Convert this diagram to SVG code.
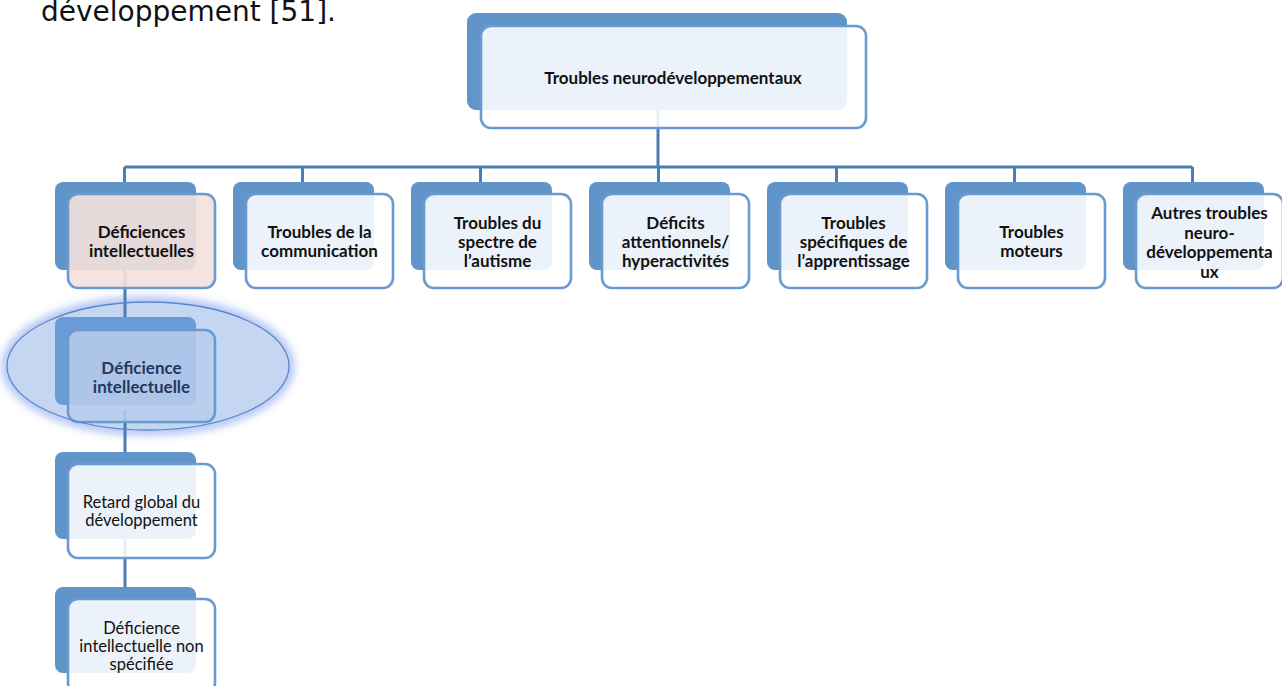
<svg xmlns="http://www.w3.org/2000/svg" width="1282" height="686" viewBox="0 0 1282 686">
<defs>
<style>
.back{fill:#6195c9}
.front{fill:#ffffff;fill-opacity:.88;stroke:#6a9bd0;stroke-width:2.6}
.conn{stroke:#4a7db4;stroke-width:3;fill:none}
.t{font-family:Lato,'Liberation Sans',sans-serif;font-weight:bold;font-size:17px;text-anchor:middle;fill:#111}
.r{font-weight:normal;font-size:16.5px}
</style>
<filter id="glow" x="-20%" y="-40%" width="140%" height="180%">
<feGaussianBlur stdDeviation="5"/>
</filter>
</defs>
<rect width="1282" height="686" fill="#fff"/>
<text x="41" y="21" font-family="'DejaVu Sans',sans-serif" font-size="28" fill="#111">développement [51].</text>

<g id="highlight">
<ellipse cx="148" cy="366" rx="141" ry="64" fill="none" stroke="#7f9cf0" stroke-width="9" opacity="0.75" filter="url(#glow)"/>
<ellipse cx="148" cy="366" rx="141" ry="64" fill="#c4d6f2"/>
</g>

<g id="connectors">
<path class="conn" d="M658 100V167M124.5 167H1192.5M124.5 167V185M302.5 167V185M480.5 167V185M658.5 167V185M836.5 167V185M1014.5 167V185M1192.5 167V185"/>
<path class="conn" d="M125 265V320M125 410V455M125 535V590"/>
</g>

<g id="n0">
<rect class="back" x="467" y="13" width="380" height="97" rx="9"/>
<rect class="front" x="481" y="26" width="385" height="102" rx="10"/>
<text class="t" x="673" y="84">Troubles neurodéveloppementaux</text>
</g>

<g id="n1">
<rect class="back" x="55" y="182" width="141" height="88" rx="8"/>
<rect class="front" x="68" y="194" width="147" height="94" rx="10" style="fill:#f4e0dc;fill-opacity:.9"/>
<text class="t" x="141.5" y="238">Déficiences</text>
<text class="t" x="141.5" y="257">intellectuelles</text>
</g>
<g id="n2">
<rect class="back" x="233" y="182" width="141" height="88" rx="8"/>
<rect class="front" x="246" y="194" width="147" height="94" rx="10"/>
<text class="t" x="319.5" y="238">Troubles de la</text>
<text class="t" x="319.5" y="257">communication</text>
</g>
<g id="n3">
<rect class="back" x="411" y="182" width="141" height="88" rx="8"/>
<rect class="front" x="424" y="194" width="147" height="94" rx="10"/>
<text class="t" x="497.5" y="228.5">Troubles du</text>
<text class="t" x="497.5" y="247.5">spectre de</text>
<text class="t" x="497.5" y="266.5">l’autisme</text>
</g>
<g id="n4">
<rect class="back" x="589" y="182" width="141" height="88" rx="8"/>
<rect class="front" x="602" y="194" width="147" height="94" rx="10"/>
<text class="t" x="675.5" y="228.5">Déficits</text>
<text class="t" x="675.5" y="247.5">attentionnels/</text>
<text class="t" x="675.5" y="266.5">hyperactivités</text>
</g>
<g id="n5">
<rect class="back" x="767" y="182" width="141" height="88" rx="8"/>
<rect class="front" x="780" y="194" width="147" height="94" rx="10"/>
<text class="t" x="853.5" y="228.5">Troubles</text>
<text class="t" x="853.5" y="247.5">spécifiques de</text>
<text class="t" x="853.5" y="266.5">l’apprentissage</text>
</g>
<g id="n6">
<rect class="back" x="945" y="182" width="141" height="88" rx="8"/>
<rect class="front" x="958" y="194" width="147" height="94" rx="10"/>
<text class="t" x="1031.5" y="238">Troubles</text>
<text class="t" x="1031.5" y="257">moteurs</text>
</g>
<g id="n7">
<rect class="back" x="1123" y="182" width="141" height="88" rx="8"/>
<rect class="front" x="1136" y="194" width="147" height="94" rx="10"/>
<text class="t" x="1209.5" y="219">Autres troubles</text>
<text class="t" x="1209.5" y="238.5">neuro-</text>
<text class="t" x="1209.5" y="258">développementa</text>
<text class="t" x="1209.5" y="277.5">ux</text>
</g>

<g id="n8">
<rect class="back" x="55" y="317" width="141" height="88" rx="8" style="fill:#6b9bd6"/>
<rect class="front" x="68" y="330" width="147" height="92" rx="10" style="fill:#b9cdec;fill-opacity:.85"/>
<text class="t" x="141.5" y="374" style="fill:#26385a">Déficience</text>
<text class="t" x="141.5" y="393" style="fill:#26385a">intellectuelle</text>
</g>
<ellipse cx="148" cy="366" rx="141" ry="64" fill="none" stroke="#5b88c8" stroke-width="1.3"/>

<g id="n9">
<rect class="back" x="55" y="452" width="141" height="87" rx="8"/>
<rect class="front" x="68" y="464" width="147" height="94" rx="10"/>
<text class="t r" x="141.5" y="508">Retard global du</text>
<text class="t r" x="141.5" y="526">développement</text>
</g>
<g id="n10">
<rect class="back" x="55" y="587" width="141" height="86" rx="8"/>
<rect class="front" x="68" y="599" width="147" height="94" rx="10"/>
<text class="t r" x="141.5" y="634">Déficience</text>
<text class="t r" x="141.5" y="652">intellectuelle non</text>
<text class="t r" x="141.5" y="670">spécifiée</text>
</g>
</svg>
